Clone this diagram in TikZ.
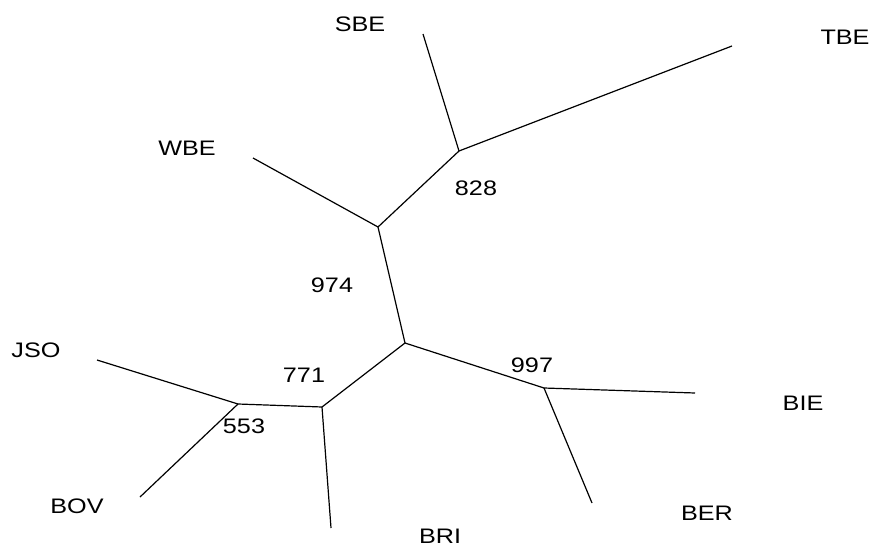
\documentclass[tikz,border=0pt]{standalone}
\usepackage{fontspec}
\setmainfont{Liberation Sans}
\usepackage{graphicx}
\newcommand{\widetxt}[1]{\scalebox{1.2}[1]{#1}}
\begin{document}
\begin{tikzpicture}[x=1pt,y=-1pt,
  branch/.style={line width=1.2pt,black},
  lbl/.style={inner sep=0pt,font=\fontsize{21}{21}\selectfont}]
\useasboundingbox (0,0) rectangle (872,546);
% internal nodes
\coordinate (n828) at (459,151);
\coordinate (n974) at (378,227);
\coordinate (nr) at (405,343);
\coordinate (n997) at (544,388);
\coordinate (n771) at (322,407);
\coordinate (n553) at (238,404);
% leaf ends
\coordinate (eSBE) at (423,34);
\coordinate (eTBE) at (732,46);
\coordinate (eWBE) at (253,158);
\coordinate (eJSO) at (97,360);
\coordinate (eBOV) at (140,497);
\coordinate (eBRI) at (331,528);
\coordinate (eBER) at (592,503);
\coordinate (eBIE) at (695,393);
\draw[branch] (eSBE) -- (n828);
\draw[branch] (eTBE) -- (n828);
\draw[branch] (n828) -- (n974);
\draw[branch] (eWBE) -- (n974);
\draw[branch] (n974) -- (nr);
\draw[branch] (nr) -- (n997);
\draw[branch] (n997) -- (eBIE);
\draw[branch] (n997) -- (eBER);
\draw[branch] (nr) -- (n771);
\draw[branch] (n771) -- (eBRI);
\draw[branch] (n771) -- (n553);
\draw[branch] (n553) -- (eJSO);
\draw[branch] (n553) -- (eBOV);
% labels
\node[lbl] (tSBE) at (360,24) {\widetxt{SBE}};
\node[lbl] (tTBE) at (845,37) {\widetxt{TBE}};
\node[lbl] (tWBE) at (187,148) {\widetxt{WBE}};
\node[lbl] (tJSO) at (36,350) {\widetxt{JSO}};
\node[lbl] (tBOV) at (77,506) {\widetxt{BOV}};
\node[lbl] (tBRI) at (440,536) {\widetxt{BRI}};
\node[lbl] (tBER) at (707,513) {\widetxt{BER}};
\node[lbl] (tBIE) at (803,403) {\widetxt{BIE}};
\node[lbl] (t828) at (476,188) {\widetxt{828}};
\node[lbl] (t974) at (332,285) {\widetxt{974}};
\node[lbl] (t771) at (304,375) {\widetxt{771}};
\node[lbl] (t553) at (244,426) {\widetxt{553}};
\node[lbl] (t997) at (532,365) {\widetxt{997}};
\end{tikzpicture}
\end{document}
